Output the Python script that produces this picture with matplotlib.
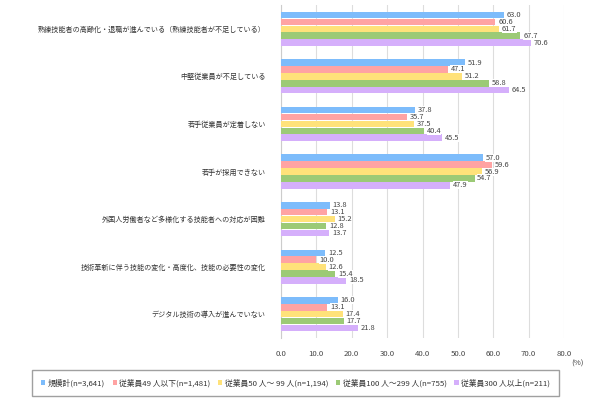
import matplotlib
matplotlib.use("Agg")
import matplotlib.pyplot as plt
import numpy as np

plt.rcParams['font.family'] = ['Noto Sans CJK JP', 'DejaVu Sans']

categories = [
    "熟練技能者の高齢化・退職が進んでいる（熟練技能者が不足している）",
    "中堅従業員が不足している",
    "若手従業員が定着しない",
    "若手が採用できない",
    "外国人労働者など多様化する技能者への対応が困難",
    "技術革新に伴う技能の変化・高度化、技能の必要性の変化",
    "デジタル技術の導入が進んでいない",
]
series_names = [
    "規模計(n=3,641)",
    "従業員49 人以下(n=1,481)",
    "従業員50 人～ 99 人(n=1,194)",
    "従業員100 人～299 人(n=755)",
    "従業員300 人以上(n=211)",
]
total = [63.0, 51.9, 37.8, 57.0, 13.8, 12.5, 16.0]
emp_49 = [60.6, 47.1, 35.7, 59.6, 13.1, 10.0, 13.1]
emp_50_99 = [61.7, 51.2, 37.5, 56.9, 15.2, 12.6, 17.4]
emp_100_299 = [67.7, 58.8, 40.4, 54.7, 12.8, 15.4, 17.7]
emp_300 = [70.6, 64.5, 45.5, 47.9, 13.7, 18.5, 21.8]
series = [total, emp_49, emp_50_99, emp_100_299, emp_300]
colors = ["#7dbcfb", "#ffa3a3", "#ffe27a", "#9cca76", "#d5affb"]
xticks = [0, 10, 20, 30, 40, 50, 60, 70, 80]

fig = plt.figure(figsize=(5.90, 4.08), dpi=100)
ax = fig.add_axes([281/590, 1-338/408, (564-281)/590, (338-5)/408])

n = len(categories)
bh = 0.145
y0 = np.arange(n)
for i, (vals, c) in enumerate(zip(series, colors)):
    ys = y0 + (i - 2) * bh
    ax.barh(ys, vals, height=bh*0.95, color=c, zorder=3, label=series_names[i])
    for y, v in zip(ys, vals):
        ax.text(v + 0.8, y, f"{v:.1f}", va='center', ha='left', fontsize=5.4,
                color='#444444', zorder=4,
                bbox=dict(boxstyle='square,pad=0.0', fc='white', ec='none'))

ax.set_ylim(n - 0.5, -0.5)
ax.set_xlim(0, 80)
ax.set_xticks(xticks)
ax.set_xticklabels([f"{t:.1f}" for t in xticks], fontsize=5.6, color='#444444')
ax.set_yticks(y0)
ax.set_yticklabels(categories, fontsize=5.1, color='#333333')
ax.tick_params(axis='x', length=0, pad=9)
ax.tick_params(axis='y', length=0, pad=11)
ax.grid(axis='x', color='#dddddd', linewidth=0.8, zorder=0)
for s in ['top', 'right', 'bottom']:
    ax.spines[s].set_visible(False)
ax.spines['left'].set_color('#cccccc')
fig.text(577/590, 1-364/408, "(%)", fontsize=5.6, color='#444444', ha='center', va='center')

leg = fig.legend(loc='center', bbox_to_anchor=((33+558)/2/590, 1-383/408), ncol=5,
                 fontsize=5.6, frameon=True, handlelength=0.55, handleheight=0.55,
                 handletextpad=0.3, columnspacing=1.0, fancybox=False, borderpad=1.1)
leg.get_frame().set_edgecolor('#888888')
leg.get_frame().set_linewidth(1.0)
for t in leg.get_texts():
    t.set_color('#333333')

fig.savefig("out.png", dpi=100)
